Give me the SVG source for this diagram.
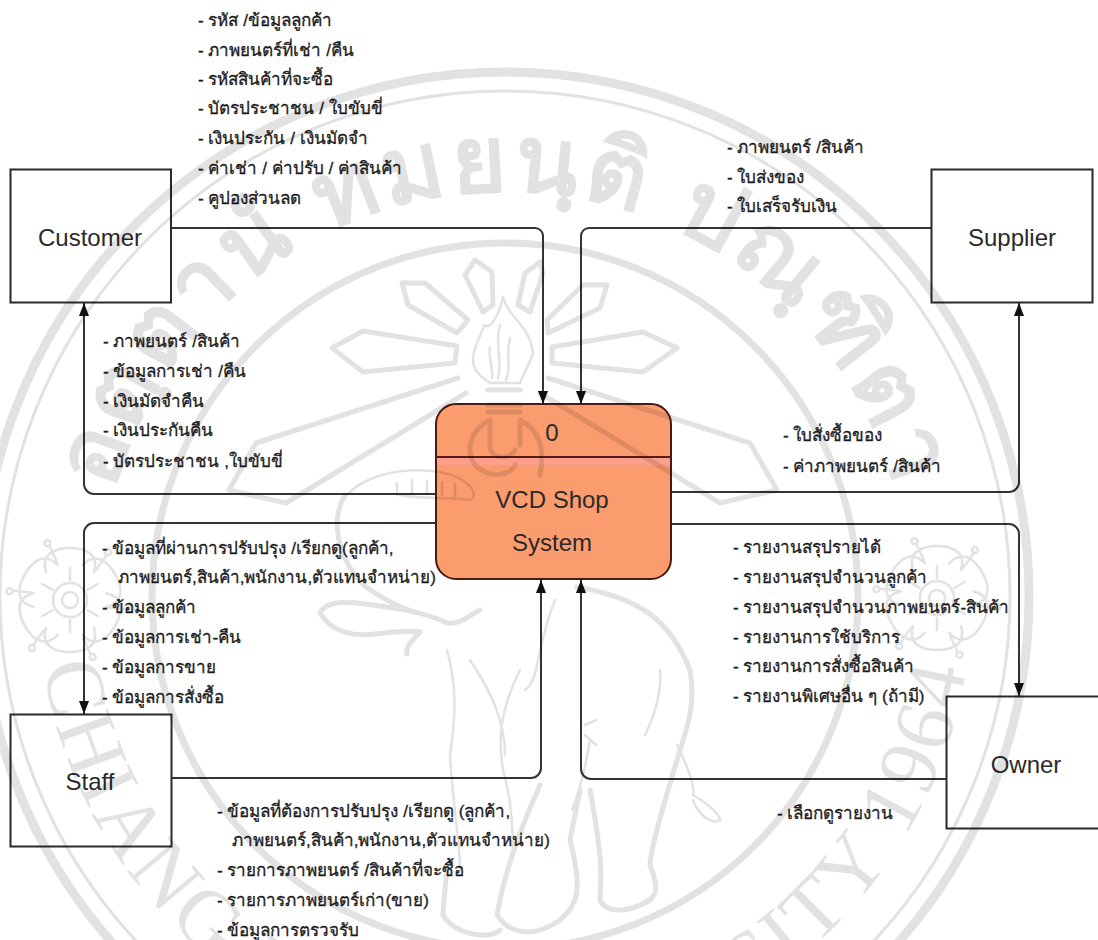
<svg xmlns="http://www.w3.org/2000/svg" xmlns:xlink="http://www.w3.org/1999/xlink" width="1098" height="940" viewBox="0 0 1098 940">
<style>
text{font-family:"Liberation Sans","Noto Sans","DejaVu Sans",sans-serif;}
.l{font-size:17.100px;fill:#1c1c1c;stroke:#1c1c1c;stroke-width:.3}
.n{font-size:24px;fill:#2a2a2a;text-anchor:middle}
.b{fill:#fff;stroke:#2a2a2a;stroke-width:2}
.c{fill:none;stroke:#333;stroke-width:2;marker-end:url(#a)}
.w{fill:none;stroke:#000;stroke-width:5;stroke-linejoin:round;stroke-linecap:round}
.t{fill:none;stroke:#000;stroke-width:2.500;stroke-linecap:round;stroke-linejoin:round}
</style>
<defs>
<marker id="a" markerUnits="userSpaceOnUse" markerWidth="14" markerHeight="12" refX="13" refY="6" orient="auto" viewBox="0 0 14 12"><path d="M0 1 L13 6 L0 11Z" fill="#111"/></marker>
<path id="arcTop" d="M106 666A405 405 0 1 1 904 666"/>
<path id="arcBottom" d="M45 515A467 467 0 1 0 965 515"/>
<g id="flower">
<circle r="8" class="t"/>
<circle r="17" class="t"/>
<g id="petals"><path class="t" stroke-width="3" d="M-24 -28C-30 -48 -12 -52 0 -52C12 -52 30 -48 24 -28"/><path class="t" d="M26 -30L36 -44"/><circle cx="38" cy="-48" r="3" class="t"/><path class="t" d="M0 -20V-32"/></g>
<use xlink:href="#petals" transform="rotate(60)"/><use xlink:href="#petals" transform="rotate(120)"/><use xlink:href="#petals" transform="rotate(180)"/><use xlink:href="#petals" transform="rotate(240)"/><use xlink:href="#petals" transform="rotate(300)"/>
</g>
</defs>
<rect width="1098" height="940" fill="#fff"/>
<g id="connectors">
<path class="c" d="M171 228H535a8 8 0 0 1 8 8V404"/>
<path class="c" d="M931 228H589a8 8 0 0 0 -8 8V404"/>
<path class="c" d="M436 494H94a10 10 0 0 1 -10 -10V303"/>
<path class="c" d="M671 492H1009a10 10 0 0 0 10 -10V303"/>
<path class="c" d="M436 523H94a10 10 0 0 0 -10 10V714"/>
<path class="c" d="M671 524H1009a10 10 0 0 1 10 10V696"/>
<path class="c" d="M171 778H531a10 10 0 0 0 10 -10V580"/>
<path class="c" d="M946 779H591a10 10 0 0 1 -10 -10V580"/>
</g>
<g id="customer"><rect class="b" x="10.500" y="169.500" width="160.500" height="133"/><text class="n" x="90" y="246">Customer</text></g>
<g id="supplier"><rect class="b" x="931.500" y="169.500" width="161" height="133"/><text class="n" x="1012" y="246">Supplier</text></g>
<g id="staff"><rect class="b" x="10.500" y="714.500" width="161" height="132"/><text class="n" x="90" y="790">Staff</text></g>
<g id="owner"><rect class="b" x="946.500" y="696.500" width="170" height="132"/><text class="n" x="1026" y="773">Owner</text></g>
<g id="process"><rect x="436" y="404" width="235" height="175" rx="20" fill="#fb9c6f" stroke="#4a1a10" stroke-width="2"/><rect x="437" y="458" width="233" height="7" fill="#fca08c"/><path d="M436 457H671" stroke="#5a1a1a" stroke-width="2"/><text class="n" x="552" y="441">0</text><text class="n" x="552" y="508">VCD Shop</text><text class="n" x="552" y="551">System</text></g>
<g id="labels">
<text class="l" x="198" y="26">- รหัส /ข้อมูลลูกค้า</text>
<text class="l" x="198" y="56">- ภาพยนตร์ที่เช่า /คืน</text>
<text class="l" x="198" y="85">- รหัสสินค้าที่จะซื้อ</text>
<text class="l" x="198" y="114">- บัตรประชาชน / ใบขับขี่</text>
<text class="l" x="198" y="144">- เงินประกัน / เงินมัดจำ</text>
<text class="l" x="198" y="174">- ค่าเช่า / ค่าปรับ / ค่าสินค้า</text>
<text class="l" x="198" y="204">- คูปองส่วนลด</text>
<text class="l" x="727" y="153">- ภาพยนตร์ /สินค้า</text>
<text class="l" x="727" y="183">- ใบส่งของ</text>
<text class="l" x="727" y="212">- ใบเสร็จรับเงิน</text>
<text class="l" x="103" y="347">- ภาพยนตร์ /สินค้า</text>
<text class="l" x="103" y="377">- ข้อมูลการเช่า /คืน</text>
<text class="l" x="103" y="407">- เงินมัดจำคืน</text>
<text class="l" x="103" y="436">- เงินประกันคืน</text>
<text class="l" x="103" y="467">- บัตรประชาชน ,ใบขับขี่</text>
<text class="l" x="783" y="441">- ใบสั่งซื้อของ</text>
<text class="l" x="783" y="472">- ค่าภาพยนตร์ /สินค้า</text>
<text class="l" x="102" y="554">- ข้อมูลที่ผ่านการปรับปรุง /เรียกดู(ลูกค้า,</text>
<text class="l" x="118" y="583">ภาพยนตร์,สินค้า,พนักงาน,ตัวแทนจำหน่าย)</text>
<text class="l" x="102" y="613">- ข้อมูลลูกค้า</text>
<text class="l" x="102" y="643">- ข้อมูลการเช่า-คืน</text>
<text class="l" x="102" y="673">- ข้อมูลการขาย</text>
<text class="l" x="102" y="703">- ข้อมูลการสั่งซื้อ</text>
<text class="l" x="733" y="553">- รายงานสรุปรายได้</text>
<text class="l" x="733" y="583">- รายงานสรุปจำนวนลูกค้า</text>
<text class="l" x="733" y="613">- รายงานสรุปจำนวนภาพยนตร์-สินค้า</text>
<text class="l" x="733" y="643">- รายงานการใช้บริการ</text>
<text class="l" x="733" y="672">- รายงานการสั่งซื้อสินค้า</text>
<text class="l" x="733" y="702">- รายงานพิเศษอื่น ๆ (ถ้ามี)</text>
<text class="l" x="777" y="819">- เลือกดูรายงาน</text>
<text class="l" x="217" y="817">- ข้อมูลที่ต้องการปรับปรุง /เรียกดู (ลูกค้า,</text>
<text class="l" x="232" y="846">ภาพยนตร์,สินค้า,พนักงาน,ตัวแทนจำหน่าย)</text>
<text class="l" x="217" y="876">- รายการภาพยนตร์ /สินค้าที่จะซื้อ</text>
<text class="l" x="217" y="906">- รายการภาพยนตร์เก่า(ขาย)</text>
<text class="l" x="217" y="936">- ข้อมูลการตรวจรับ</text>
</g>
<g id="watermark" opacity="0.11">
<circle cx="505" cy="596" r="524" fill="none" stroke="#000" stroke-width="9"/>
<circle cx="505" cy="596" r="505" fill="none" stroke="#000" stroke-width="3"/>
<circle cx="505" cy="596" r="353" fill="none" stroke="#000" stroke-width="7"/>
<text font-size="94" font-weight="bold" fill="#000" text-anchor="middle" letter-spacing="4"><textPath xlink:href="#arcTop" startOffset="50%">อตฺตานํ ทมยนฺติ ปณฺฑิตา</textPath></text>
<text font-size="84" fill="#000" text-anchor="middle" letter-spacing="4" style="font-family:'Liberation Serif',serif"><textPath xlink:href="#arcBottom" startOffset="50%">CHIANG MAI UNIVERSITY 1964</textPath></text>
<path class="w" d="M332 348L363 331L457 346L455 363L363 372Z"/>
<path class="w" d="M677 348L643 332L552 347L552 363L643 372Z"/>
<path class="w" d="M402 283L425 283L468 320L457 333L408 305Z"/>
<path class="w" d="M607 285L583 285L547 320L548 333L600 308Z"/>
<path class="w" d="M475 260L492 272L493 305L483 312L465 275Z"/>
<path class="w" d="M540 262L543 273L530 312L518 305L525 273Z"/>
<path class="w" d="M458 378L256 443L229 490L286 503L466 393"/>
<path class="w" d="M548 378L750 443L777 490L720 503L540 393"/>
<path class="t" d="M503 297C508 318 530 325 533 353C528 368 522 376 520 383H490C478 375 472 368 473 357C476 340 482 335 484 325C490 330 498 318 503 297Z"/>
<path class="t" d="M500 325C494 345 503 360 498 378M510 338C505 355 512 365 506 380M490 348C488 360 494 370 492 378"/>
<path class="w" stroke-width="6" d="M488 390H520M488 405H520M488 412H520"/>
<path class="w" d="M490 420C470 430 465 450 475 465C490 480 510 475 515 465M520 420C540 430 545 450 540 475M490 420V445C490 460 510 460 515 450M520 420V445"/>
<path class="t" d="M343 500C360 476 400 466 440 472C470 478 480 495 470 500C450 496 425 500 400 495M397 483V495M412 480V494M427 481V494M442 482V495M455 484V496"/>
<path class="w" d="M345 495C330 520 337 560 366 587C385 600 400 608 415 612"/>
<path class="w" d="M320 613C325 602 340 601 365 604C395 608 425 612 447 623C460 625 470 615 480 610M320 613C330 630 350 637 375 634C395 632 410 630 420 632C412 640 405 648 407 654"/>
<path class="t" d="M447 650C458 690 455 720 450 755C452 800 460 840 460 870M520 670C495 720 500 750 503 770C512 800 513 830 513 855M555 600C535 650 540 680 525 690M470 660C490 690 505 720 505 755"/>
<path class="w" d="M447 870C445 890 443 905 443 915C455 935 490 940 500 930"/>
<path class="w" d="M540 785C520 830 505 870 497 915C510 935 535 938 560 920C578 905 583 890 570 840L580 790"/>
<path class="w" d="M577 587C640 598 670 620 690 670C695 700 690 720 680 750C665 800 650 850 650 865C660 890 655 895 650 900C625 915 605 912 600 900C600 880 605 870 590 790"/>
<path class="t" d="M677 745C690 770 695 790 693 795C710 805 720 815 720 820C712 825 698 815 693 800"/>
<path class="t" d="M660 670C662 690 655 715 645 735M590 740C585 770 580 790 572 810M585 725L596 720M585 735L596 745"/>
<use xlink:href="#flower" x="70" y="600"/>
<use xlink:href="#flower" x="937" y="598"/>
</g>
</svg>
